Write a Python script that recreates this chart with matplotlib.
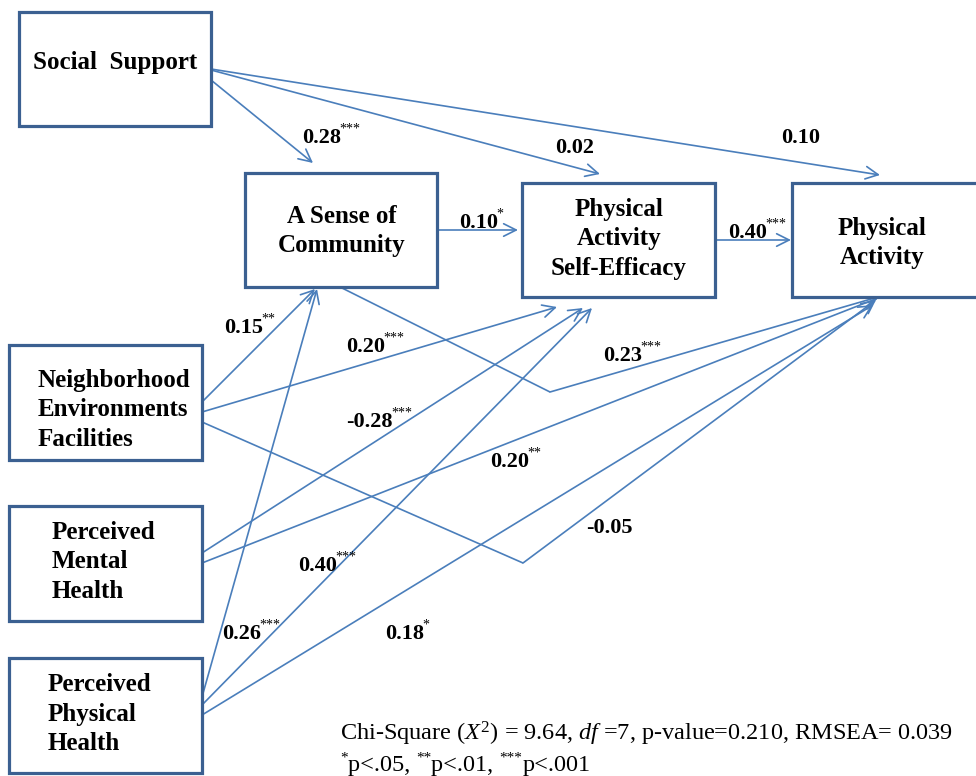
import matplotlib
matplotlib.use("Agg")
import matplotlib.pyplot as plt
from matplotlib.patches import Rectangle, FancyArrowPatch
from matplotlib.transforms import offset_copy

# ---------------- data ----------------
nodes = ["Social  Support", "A Sense of\nCommunity", "Physical\nActivity\nSelf-Efficacy",
         "Physical\nActivity", "Neighborhood\nEnvironments\nFacilities",
         "Perceived\nMental\nHealth", "Perceived\nPhysical\nHealth"]
path_from = ["SS", "SS", "SS", "ASC", "PASE", "ASC", "NEF", "NEF", "NEF", "PMH", "PMH", "PPH", "PPH", "PPH"]
path_to = ["ASC", "PASE", "PA", "PASE", "PA", "PA", "ASC", "PASE", "PA", "PASE", "PA", "ASC", "PASE", "PA"]
coefficients = ["0.28", "0.02", "0.10", "0.10", "0.40", "0.23", "0.15", "0.20", "-0.05",
                "-0.28", "0.20", "0.26", "0.40", "0.18"]
significance = ["***", "", "", "*", "***", "***", "**", "***", "", "***", "**", "***", "***", "*"]
fit_note = "Chi-Square ($\\mathit{X}^{2}$) = 9.64, $\\mathit{df}$ =7, p-value=0.210, RMSEA= 0.039"
sig_levels = ["*", "**", "***"]
sig_text = ["p<.05, ", "p<.01, ", "p<.001"]

# ---------------- layout ----------------
node_keys = ["SS", "ASC", "PASE", "PA", "NEF", "PMH", "PPH"]
box = {"SS": (19, 12, 211, 126), "ASC": (245, 173, 437, 287), "PASE": (522, 183, 715, 297),
       "PA": (792, 183, 995, 297), "NEF": (9, 345, 202, 460), "PMH": (9, 506, 202, 621),
       "PPH": (9, 658, 202, 773)}
# (x, y, ha) of node text
node_text_pos = {"SS": (115, 62, "center"), "ASC": (342, 231, "center"),
                 "PASE": (619, 239, "center"), "PA": (882, 243, "center"),
                 "NEF": (38, 410, "left"), "PMH": (52, 562, "left"), "PPH": (48, 714, "left")}
# routes (start, [elbow], end) for each path in same order
routes = [[(211, 80), (313, 163)],
          [(211, 70), (600, 174)],
          [(211, 69), (880, 175)],
          [(437, 230), (518, 230)],
          [(715, 240), (791, 240)],
          [(342, 288), (550, 392), (878, 297)],
          [(202, 402), (315, 289)],
          [(202, 412), (557, 307)],
          [(202, 422), (523, 563), (876, 300)],
          [(202, 553), (583, 308)],
          [(202, 563), (878, 298)],
          [(202, 697), (317, 289)],
          [(202, 705), (592, 308)],
          [(202, 715), (873, 305)]]
# (left x, baseline y) of coefficient labels
label_pos = [(302, 143), (555, 153), (781, 143), (459, 228), (728, 238), (603, 361),
             (224, 333), (346, 352), (586, 533), (346, 427), (490, 467), (222, 639),
             (298, 571), (385, 639)]

LINE = "#4a7ebb"
EDGE = "#3b6091"
SERIF = ["Liberation Serif", "DejaVu Serif"]
plt.rcParams["mathtext.fontset"] = "custom"
plt.rcParams["mathtext.rm"] = "Liberation Serif"
plt.rcParams["mathtext.it"] = "Liberation Serif:italic"

fig = plt.figure(figsize=(9.76, 7.76), dpi=100)
ax = fig.add_axes([0, 0, 1, 1])
ax.set_xlim(0, 976)
ax.set_ylim(776, 0)
ax.axis("off")

# paths
for r in routes:
    if len(r) > 2:
        xs = [p[0] for p in r[:-1]]
        ys = [p[1] for p in r[:-1]]
        ax.plot(xs, ys, color=LINE, lw=1.2, solid_capstyle="butt", zorder=2)
    arr = FancyArrowPatch(r[-2], r[-1], arrowstyle="->,head_length=9,head_width=4.5",
                          color=LINE, lw=1.2, shrinkA=0, shrinkB=0, mutation_scale=1, zorder=2)
    ax.add_patch(arr)

# boxes
for k, name in zip(node_keys, nodes):
    x0, y0, x1, y1 = box[k]
    ax.add_patch(Rectangle((x0, y0), x1 - x0, y1 - y0, facecolor="white",
                           edgecolor=EDGE, lw=2.3, zorder=3, clip_on=True))
    tx, ty, ha = node_text_pos[k]
    ax.text(tx, ty, name, ha=ha, va="center", fontsize=18, fontweight="bold",
            family=SERIF, linespacing=1.38, zorder=4)

fig.canvas.draw()
renderer = fig.canvas.get_renderer()

def sup_text(x, y, main, sup, size, supsize, weight):
    t = ax.text(x, y, main, ha="left", va="baseline", fontsize=size, fontweight=weight,
                family=SERIF, zorder=5)
    if sup:
        w = t.get_window_extent(renderer).width * 72.0 / fig.dpi
        tr = offset_copy(ax.transData, fig=fig, x=w - 1.2, y=size * 0.45, units="points")
        ax.text(x, y, sup, transform=tr, ha="left", va="baseline", fontsize=supsize,
                family=SERIF, zorder=5)

for (x, y), c, s in zip(label_pos, coefficients, significance):
    sup_text(x, y, c, s, 16, 10, "bold")

# fit note
ax.text(340, 741, fit_note, ha="left", va="baseline", fontsize=17.5, family=SERIF)
x = 340
for lev, txt in zip(sig_levels, sig_text):
    tr = offset_copy(ax.transData, fig=fig, x=0, y=7, units="points")
    t1 = ax.text(x, 771, lev, transform=tr, ha="left", va="baseline", fontsize=11, family=SERIF)
    w1 = t1.get_window_extent(renderer).width
    t2 = ax.text(x + w1, 771, txt, ha="left", va="baseline", fontsize=17.5, family=SERIF)
    w2 = t2.get_window_extent(renderer).width
    x = x + w1 + w2

fig.savefig("out.png", dpi=100)
